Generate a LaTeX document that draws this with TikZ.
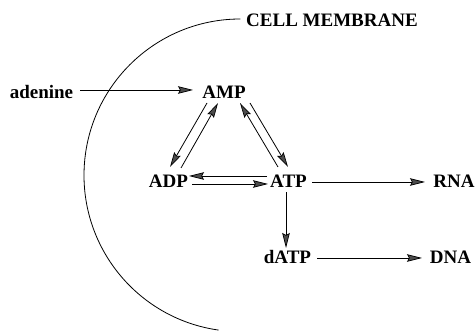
\documentclass[tikz,border=0pt]{standalone}
\usepackage{fontspec}
\setmainfont{Liberation Serif}
\usetikzlibrary{arrows.meta}
\tikzset{
  lbl/.style={anchor=base, inner sep=0pt, font=\fontsize{19}{19}\selectfont\bfseries},
  arr/.style={line width=0.8pt, -{Stealth[length=15pt, width=7.5pt, inset=2pt, fill=black!70, line width=0.7pt]}},
  membrane/.style={line width=0.8pt}
}
\begin{document}
\begin{tikzpicture}[x=1pt,y=1pt]
\useasboundingbox (0,0) rectangle (476,331);
% nodes
\node[lbl, anchor=base west] (cell) at (246,304) {CELL MEMBRANE};
\node[lbl] (adenine) at (41.5,232) {adenine};
\node[lbl] (AMP) at (224,232) {AMP};
\node[lbl] (ADP) at (168.5,143.5) {ADP};
\node[lbl] (ATP) at (288.5,143.5) {ATP};
\node[lbl] (RNA) at (454,143.5) {RNA};
\node[lbl] (dATP) at (287.5,67) {dATP};
\node[lbl] (DNA) at (450.5,67) {DNA};
% membrane
\draw[membrane] ([xshift=-5.7pt,yshift=8pt]cell.base west) arc[start angle=90, end angle=262, radius=156.3];
% arrows
\draw[arr] ([shift={(38.5,9)}]adenine.base) -- ([shift={(-31,9)}]AMP.base);
\draw[arr] ([shift={(-17,-4)}]AMP.base) -- ([shift={(1.5,20.5)}]ADP.base);
\draw[arr] ([shift={(12.5,19.5)}]ADP.base) -- ([shift={(-6,-4)}]AMP.base);
\draw[arr] ([shift={(-10.5,20.5)}]ATP.base) -- ([shift={(16,-4)}]AMP.base);
\draw[arr] ([shift={(26,-4)}]AMP.base) -- ([shift={(-0.5,20.5)}]ATP.base);
\draw[arr] ([shift={(-21.5,11.5)}]ATP.base) -- ([shift={(20.5,11.5)}]ADP.base);
\draw[arr] ([shift={(23.5,3.5)}]ADP.base) -- ([shift={(-20.5,3.5)}]ATP.base);
\draw[arr] ([shift={(23.5,5.5)}]ATP.base) -- ([shift={(-29,5.5)}]RNA.base);
\draw[arr] ([shift={(-2.5,-5)}]ATP.base) -- ([shift={(-1.5,16)}]dATP.base);
\draw[arr] ([shift={(29.5,6)}]dATP.base) -- ([shift={(-28.5,6)}]DNA.base);
\end{tikzpicture}
\end{document}
